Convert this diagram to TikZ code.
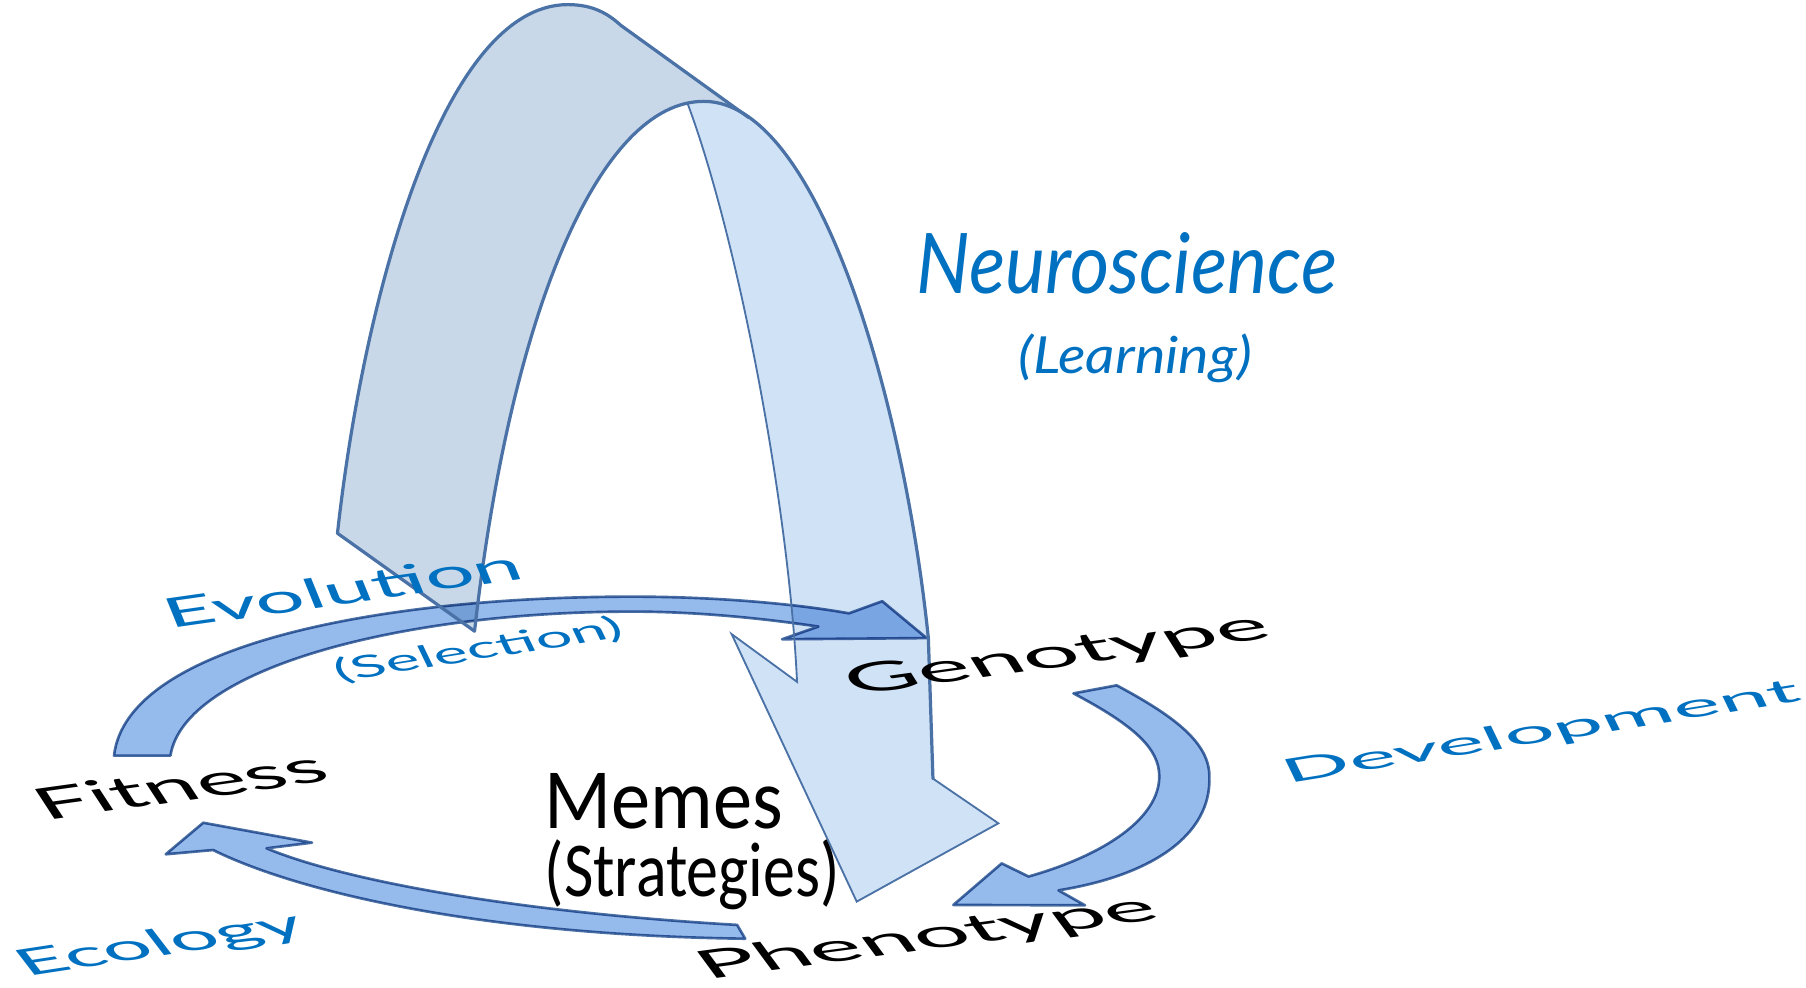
\documentclass[tikz,border=0pt]{standalone}
\usepackage{fontspec}
\usepackage{graphicx}
\setmainfont{Lato}
\newfontfamily\memefont{Carlito}
\definecolor{labelblue}{HTML}{0070C0}
\definecolor{bandfill}{HTML}{95BBEC}
\definecolor{bandline}{HTML}{4A6FA3}
\definecolor{archback}{HTML}{C8D8E8}
\definecolor{archfront}{HTML}{D0E2F6}
\definecolor{archline}{HTML}{4B72A6}
% text squeezed to a given width, keeping its natural height
\newcommand\fitword[3]{\resizebox{#1pt}{\height}{\fontsize{#2}{#2}\selectfont #3}}
\begin{document}
\begin{tikzpicture}[x=1pt,y=-1pt,
  bandshape/.style={fill=bandfill, draw=bandline, line width=2.3pt, line join=round},
  backface/.style={fill=archback},
  frontface/.style={fill=archfront},
  archedge/.style={draw=archline, line width=2.8pt, line join=round, line cap=round},
  thinedge/.style={draw=archline, line width=1.6pt, line join=miter},
  groundlabel/.style={anchor=base west, inner sep=0pt, outer sep=0pt},
  flatlabel/.style={anchor=base west, inner sep=0pt, outer sep=0pt}]
\useasboundingbox (0,0) rectangle (1568,857);

% ---- key points of the arch ----
\coordinate (footL) at (293,463);
\coordinate (footR) at (412,548);
\coordinate (crown) at (493,4);
\coordinate (foldA) at (539,22);
\coordinate (foldB) at (650,102);
\coordinate (apex)  at (611,88);
\coordinate (twist) at (597,90);
\coordinate (shaft) at (806,554);
\coordinate (neckR) at (810,676);
\coordinate (barbR) at (866.8,714.8);
\coordinate (tipA)  at (743.8,782.8);
\coordinate (barbL) at (635.2,550.5);
\coordinate (neckL) at (692,592);

% back face (left leg, seen from behind)
\path[backface] (footR) -- (footL)
  .. controls (315,263) and (383,4) .. (crown)
  .. controls (515,4) and (528,12) .. (foldA)
  -- (foldB)
  .. controls (635,92) and (625,88) .. (apex)
  .. controls (521,88) and (443.5,269) .. (footR) -- cycle;
% front face (right leg, ending in the arrow head)
\path[frontface] (twist) .. controls (603,88.5) and (607,88) .. (apex)
  .. controls (711,88) and (785,350) .. (shaft) -- (neckR) -- (barbR) -- (tipA) -- (barbL) -- (neckL)
  .. controls (684.5,433) and (639,202) .. (twist) -- cycle;

% ---- the three cycle arrows ----
\begin{scope}[blend mode=multiply]
% Evolution
\path[bandshape] (99,656) .. controls (110,560) and (330,518) .. (549,518)
  .. controls (620,518) and (690,524) .. (737,532.5)
  -- (766,522) -- (804.5,554) -- (679,555) -- (710.5,544)
  .. controls (670,538) and (610,531) .. (549,531)
  .. controls (350,531) and (160,580) .. (148,656) -- cycle;
% Development
\path[bandshape] (969.5,595) .. controls (1020,622) and (1050,645) .. (1050,674)
  .. controls (1052,725) and (1000,760) .. (919,773)
  -- (942,786) -- (827.7,785.7) -- (869.7,749.6) -- (893,761)
  .. controls (960,742) and (1006.5,710) .. (1006.5,674)
  .. controls (1006.5,650) and (985,630) .. (932,602) -- cycle;
% Ecology
\path[bandshape] (640,803) .. controls (450,792) and (300,765) .. (231.4,736.5)
  -- (270.9,731.6) -- (176.5,714.3) -- (143.9,741.7) -- (185,738)
  .. controls (260,775) and (420,812) .. (647,815) -- cycle;
\end{scope}

% ---- arch outlines ----
\path[archedge] (footR) .. controls (443.5,269) and (521,88) .. (apex)
  .. controls (711,88) and (785,350) .. (shaft) -- (neckR);
\path[archedge] (footR) -- (footL)
  .. controls (315,263) and (383,4) .. (crown)
  .. controls (515,4) and (528,12) .. (foldA) -- (foldB);
\path[thinedge] (twist) .. controls (639,202) and (684.5,433) .. (neckL)
  -- (barbL) -- (tipA) -- (barbR) -- (neckR);

% ---- labels ----
\node[flatlabel, text=labelblue] (neuro) at (796,254.7)
  {\fitword{365}{72.6}{\itshape Neuroscience}};
\node[flatlabel, text=labelblue] (learn) at (884,324)
  {\fitword{203}{44.4}{\itshape (Learning)}};
\node[flatlabel] (memes) at (473,719)
  {\fitword{207}{74.5}{\memefont Memes}};
\node[flatlabel] (strat) at (473,778.5)
  {\fitword{256}{67.5}{\memefont (Strategies)}};

\node[groundlabel, text=labelblue, rotate=8.1, xslant=-0.25] (evo) at (148,546)
  {\fitword{312}{36}{Evolution}};
\node[groundlabel, text=labelblue, rotate=9, xslant=-0.3] (sel) at (295,592)
  {\fitword{252}{27}{(Selection)}};
\node[groundlabel, rotate=7.9, xslant=-0.47] (fit) at (40,712)
  {\fitword{252}{39}{Fitness}};
\node[groundlabel, rotate=7.9, xslant=-0.45] (geno) at (742,604)
  {\fitword{368}{36}{Genotype}};
\node[groundlabel, rotate=7.6, xslant=-0.55] (pheno) at (615,850)
  {\fitword{398}{35}{Phenotype}};
\node[groundlabel, text=labelblue, rotate=9.1, xslant=-0.3] (devel) at (1119,680)
  {\fitword{452}{29}{Development}};
\node[groundlabel, text=labelblue, rotate=8.7, xslant=-0.55] (eco) at (24,848)
  {\fitword{248}{33}{Ecology}};
\end{tikzpicture}
\end{document}
